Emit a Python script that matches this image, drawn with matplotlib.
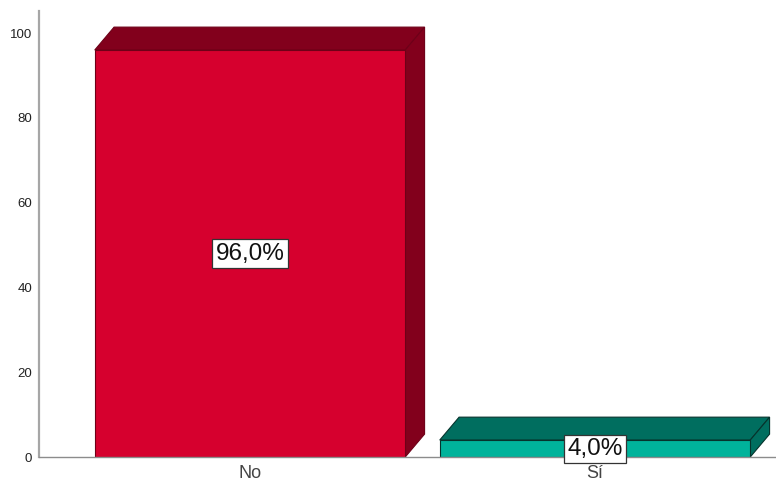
import numpy as np
import matplotlib
matplotlib.use('Agg')
import matplotlib.pyplot as plt

# Values
categories = ['No', 'Sí']
percentages = [96.0, 4.0]
value_labels = ['96,0%', '4,0%']
y_ticks = [0, 20, 40, 60, 80, 100]

front_colors = ['#D6002E', '#00B39B']
top_colors = ['#82001C', '#006E5F']
side_colors = ['#82001C', '#006E5F']
edge_colors = ['#6E0018', '#06332C']

plt.rcParams['font.family'] = ['Liberation Sans', 'DejaVu Sans']

W, H = 776, 483
fig = plt.figure(figsize=(W / 100, H / 100), dpi=100)
ax = fig.add_axes([39 / W, 1 - 457 / H, (W - 39) / W, (457 - 11) / H])

# --------------------
# Scales: one category step is 345 px, one percent is 4.24 px
ax.set_xlim(-0.6116, 1.5246)
ax.set_ylim(0, 105.2)

bar_width = 0.9
depth_x = 0.056
depth_y = 5.4

# Draw each bar as a front face plus an extruded top and side
x_pos = np.arange(len(categories))
for x, val, fc, tc, sc, ec in zip(x_pos, percentages, front_colors, top_colors, side_colors, edge_colors):
    left = x - bar_width / 2
    right = x + bar_width / 2
    ax.fill([left, right, right + depth_x, left + depth_x],
            [val, val, val + depth_y, val + depth_y],
            facecolor=tc, edgecolor=ec, linewidth=0.8, zorder=2, clip_on=False)
    ax.fill([right, right + depth_x, right + depth_x, right],
            [0, depth_y, val + depth_y, val],
            facecolor=sc, edgecolor=ec, linewidth=0.8, zorder=2, clip_on=False)
    ax.bar(x, val, width=bar_width, color=fc, edgecolor=ec, linewidth=0.8, zorder=3)

# Value labels in white boxes, centred on the front face
for x, val, label in zip(x_pos, percentages, value_labels):
    ax.text(x, val / 2 if val > 10 else val / 2 - 0.1, label, ha='center', va='center',
            fontsize=17.5, color='#111111', zorder=5,
            bbox=dict(boxstyle='square,pad=0.14', facecolor='white', edgecolor='#333333', linewidth=0.9))

for side in ['top', 'right']:
    ax.spines[side].set_visible(False)
ax.spines['left'].set_color('#A6A6A6')
ax.spines['left'].set_linewidth(1.6)
ax.spines['bottom'].set_color('#8C8C8C')
ax.spines['bottom'].set_linewidth(1.0)
ax.spines['bottom'].set_zorder(4)

ax.set_yticks(y_ticks)
ax.set_xticks(x_pos)
ax.set_xticklabels(categories)
ax.tick_params(axis='y', length=0, pad=5, labelsize=9.5, labelcolor='#222222')
ax.tick_params(axis='x', length=0, pad=6, labelsize=13, labelcolor='#444444')

fig.savefig('out.png', dpi=100, facecolor='white')
